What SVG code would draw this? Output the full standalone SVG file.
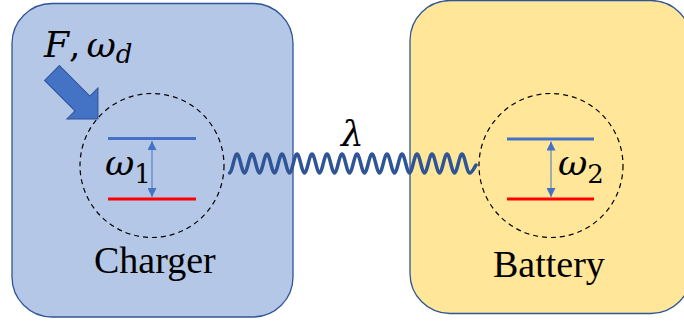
<svg xmlns="http://www.w3.org/2000/svg" width="684" height="327" viewBox="0 0 684 327">
<defs>
<style>
.box-c{fill:#B4C7E7;stroke:#2F5597;stroke-width:1.3}
.box-b{fill:#FFE699;stroke:#2F5597;stroke-width:1.3}
.circ{fill:none;stroke:#000;stroke-width:1.2;stroke-dasharray:5 4}
.hi{stroke:#4472C4;stroke-width:3}
.lo{stroke:#FF0000;stroke-width:3}
.gap{stroke:#4472C4;stroke-width:1;marker-start:url(#ah);marker-end:url(#ah)}
.lbl{font-family:'Liberation Serif',serif;font-size:38px;fill:#000}
.math{font-family:'DejaVu Serif',serif;font-size:36px;font-style:italic;fill:#000}
.sub{font-size:26px}
.up{font-style:normal}
</style>
<marker id="ah" viewBox="0 0 10 10" refX="10" refY="5" markerWidth="9" markerHeight="9" markerUnits="userSpaceOnUse" orient="auto-start-reverse">
<path d="M0,0 L10,5 L0,10 Z" fill="#4472C4"/>
</marker>
</defs>
<g id="charger">
<rect class="box-c" x="12" y="3.5" width="281" height="313.5" rx="40" ry="40"/>
<circle class="circ" cx="152" cy="165.5" r="72"/>
<line class="hi" x1="108" y1="138.5" x2="196" y2="138.5"/>
<line class="lo" x1="108" y1="199" x2="196" y2="199"/>
<line class="gap" x1="152" y1="141" x2="152" y2="197"/>
<text class="math" x="105" y="175">ω<tspan class="sub up" dy="8">1</tspan></text>
<text class="lbl" x="94" y="273">Charger</text>
</g>
<g id="drive">
<polygon points="0,-10.5 43,-10.5 43,-22 65,0 43,22 43,10.5 0,10.5" transform="translate(52,73) rotate(45)" fill="#4472C4" stroke="#2F5597" stroke-width="1"/>
<text class="math" x="44" y="57">F<tspan class="up">,</tspan><tspan dx="6">ω</tspan><tspan class="sub" dy="6">d</tspan></text>
</g>
<g id="battery">
<rect class="box-b" x="410" y="0.5" width="281" height="313" rx="40" ry="40"/>
<circle class="circ" cx="551" cy="165.5" r="72"/>
<line class="hi" x1="507" y1="139" x2="594" y2="139"/>
<line class="lo" x1="507" y1="199" x2="594" y2="199"/>
<line class="gap" x1="551" y1="141.5" x2="551" y2="197"/>
<text class="math" x="558" y="175">ω<tspan class="sub up" dy="8">2</tspan></text>
<text class="lbl" x="493" y="277">Battery</text>
</g>
<g id="connectors">
<path d="M229.5,173 C232.2,173 234.3,154 237,154 C239.7,154 241.8,173 244.5,173 C247.2,173 249.3,154 252,154 C254.7,154 256.8,173 259.5,173 C262.2,173 264.3,154 267,154 C269.7,154 271.8,173 274.5,173 C277.2,173 279.3,154 282,154 C284.7,154 286.8,173 289.5,173 C292.2,173 294.3,154 297,154 C299.7,154 301.8,173 304.5,173 C307.2,173 309.3,154 312,154 C314.7,154 316.8,173 319.5,173 C322.2,173 324.3,154 327,154 C329.7,154 331.8,173 334.5,173 C337.2,173 339.3,154 342,154 C344.7,154 346.8,173 349.5,173 C352.2,173 354.3,154 357,154 C359.7,154 361.8,173 364.5,173 C367.2,173 369.3,154 372,154 C374.7,154 376.8,173 379.5,173 C382.2,173 384.3,154 387,154 C389.7,154 391.8,173 394.5,173 C397.2,173 399.3,154 402,154 C404.7,154 406.8,173 409.5,173 C412.2,173 414.3,154 417,154 C419.7,154 421.8,173 424.5,173 C427.2,173 429.3,154 432,154 C434.7,154 436.8,173 439.5,173 C442.2,173 444.3,154 447,154 C449.7,154 451.8,173 454.5,173 C457.2,173 459.3,154 462,154 C464.7,154 466.8,173 469.5,173 C472,173 474,168 476,165" fill="none" stroke="#2F5597" stroke-width="3.5" stroke-linecap="round"/>
<text class="math" x="341" y="146">λ</text>
</g>
</svg>
